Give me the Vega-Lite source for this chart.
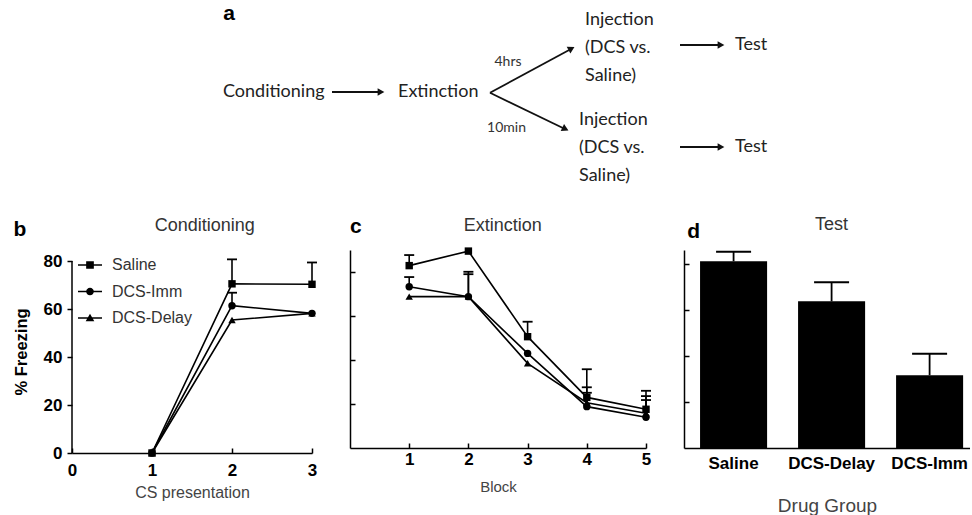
{
  "$schema": "https://vega.github.io/schema/vega-lite/v6.json",
  "padding": {"left": 13, "top": 0, "right": 0, "bottom": 0},
  "bounds": "flush",
  "spacing": 50,
  "config": {
    "font": "Liberation Sans",
    "view": {"stroke": null},
    "axis": {
      "domainColor": "black", "domainWidth": 1.5, "tickColor": "black", "tickWidth": 1.5,
      "labelColor": "black", "labelFont": "Liberation Sans", "labelFontWeight": "bold", "labelFontSize": 17,
      "grid": false, "titleFontWeight": "normal", "titleColor": "#444", "titleFont": "Liberation Sans"
    }
  },
  "datasets": {
    "diagramNodes": [
      {"label": "Conditioning", "x": 151, "y": 92},
      {"label": "Extinction", "x": 326, "y": 92},
      {"label": "Injection", "x": 513, "y": 20},
      {"label": "(DCS vs.", "x": 513, "y": 48},
      {"label": "Saline)", "x": 513, "y": 76},
      {"label": "Injection", "x": 507, "y": 120},
      {"label": "(DCS vs.", "x": 507, "y": 148},
      {"label": "Saline)", "x": 507, "y": 176},
      {"label": "Test", "x": 663, "y": 45},
      {"label": "Test", "x": 663, "y": 147}
    ],
    "diagramTimes": [
      {"label": "4hrs", "x": 436, "y": 62},
      {"label": "10min", "x": 434.5, "y": 128}
    ],
    "diagramArrows": [
      {"x": 260, "y": 92, "x2": 306, "y2": 92},
      {"x": 418, "y": 92.7, "x2": 499, "y2": 49},
      {"x": 418, "y": 92.7, "x2": 493, "y2": 129},
      {"x": 608, "y": 45, "x2": 647, "y2": 45},
      {"x": 608, "y": 147, "x2": 647, "y2": 147}
    ],
    "diagramHeads": [
      {"x": 309, "y": 92, "angle": 0},
      {"x": 499.5, "y": 48.6, "angle": -28.4},
      {"x": 493.4, "y": 129, "angle": 25.7},
      {"x": 649, "y": 45, "angle": 0},
      {"x": 649, "y": 147, "angle": 0}
    ],
    "cond": [
      {"group": "Saline", "x": 1, "y": 0},
      {"group": "Saline", "x": 2, "y": 70.5},
      {"group": "Saline", "x": 3, "y": 70.3},
      {"group": "DCS-Imm", "x": 1, "y": 0},
      {"group": "DCS-Imm", "x": 2, "y": 61.4},
      {"group": "DCS-Imm", "x": 3, "y": 58.2},
      {"group": "DCS-Delay", "x": 1, "y": 0},
      {"group": "DCS-Delay", "x": 2, "y": 55.4},
      {"group": "DCS-Delay", "x": 3, "y": 58.2}
    ],
    "condErr": [
      {"group": "Saline", "x": 2, "y": 70.5, "upper": 80.7},
      {"group": "DCS-Imm", "x": 2, "y": 61.4, "upper": 66.8},
      {"group": "Saline", "x": 3, "y": 70.3, "upper": 79.4}
    ],
    "ext": [
      {"group": "Saline", "x": 1, "y": 82.9},
      {"group": "Saline", "x": 2, "y": 89.5},
      {"group": "Saline", "x": 3, "y": 50.6},
      {"group": "Saline", "x": 4, "y": 23},
      {"group": "Saline", "x": 5, "y": 17.6},
      {"group": "DCS-Imm", "x": 1, "y": 73.3},
      {"group": "DCS-Imm", "x": 2, "y": 68.8},
      {"group": "DCS-Imm", "x": 3, "y": 43},
      {"group": "DCS-Imm", "x": 4, "y": 18.8},
      {"group": "DCS-Imm", "x": 5, "y": 14},
      {"group": "DCS-Delay", "x": 1, "y": 68.8},
      {"group": "DCS-Delay", "x": 2, "y": 68.8},
      {"group": "DCS-Delay", "x": 3, "y": 38.5},
      {"group": "DCS-Delay", "x": 4, "y": 20.6},
      {"group": "DCS-Delay", "x": 5, "y": 15.8}
    ],
    "extErr": [
      {"group": "Saline", "x": 1, "y": 82.9, "upper": 87.7},
      {"group": "DCS-Imm", "x": 1, "y": 73.3, "upper": 77.7},
      {"group": "DCS-Imm", "x": 2, "y": 68.8, "upper": 80.1},
      {"group": "DCS-Delay", "x": 2, "y": 68.8, "upper": 79},
      {"group": "Saline", "x": 3, "y": 50.6, "upper": 57.4},
      {"group": "Saline", "x": 4, "y": 23, "upper": 35.8},
      {"group": "DCS-Delay", "x": 4, "y": 20.6, "upper": 27.6},
      {"group": "DCS-Imm", "x": 4, "y": 18.8, "upper": 25.1},
      {"group": "Saline", "x": 5, "y": 17.6, "upper": 26},
      {"group": "DCS-Delay", "x": 5, "y": 15.8, "upper": 23.6},
      {"group": "DCS-Imm", "x": 5, "y": 14, "upper": 21.8}
    ],
    "test": [
      {"group": "Saline", "y": 81.1, "upper": 85.2},
      {"group": "DCS-Delay", "y": 63.7, "upper": 72},
      {"group": "DCS-Imm", "y": 31.6, "upper": 40.9}
    ]
  },
  "vconcat": [
    {
      "width": 880,
      "height": 200,
      "layer": [
        {
          "data": {"name": "diagramArrows"},
          "mark": {"type": "rule", "color": "#111", "strokeWidth": 1.8},
          "encoding": {
            "x": {"field": "x", "type": "quantitative", "scale": {"domain": [0, 880], "nice": false}, "axis": null},
            "y": {"field": "y", "type": "quantitative", "scale": {"domain": [0, 200], "nice": false, "reverse": true}, "axis": null},
            "x2": {"field": "x2"},
            "y2": {"field": "y2"}
          }
        },
        {
          "data": {"name": "diagramHeads"},
          "mark": {"type": "point", "shape": "triangle-right", "filled": true, "color": "#111", "size": 60, "opacity": 1},
          "encoding": {
            "x": {"field": "x", "type": "quantitative", "axis": null},
            "y": {"field": "y", "type": "quantitative", "axis": null},
            "angle": {"field": "angle", "type": "quantitative", "scale": null}
          }
        },
        {
          "data": {"name": "diagramNodes"},
          "mark": {"type": "text", "font": "Lato", "fontSize": 18, "align": "left", "baseline": "middle", "color": "#222"},
          "encoding": {
            "x": {"field": "x", "type": "quantitative", "axis": null},
            "y": {"field": "y", "type": "quantitative", "axis": null},
            "text": {"field": "label"}
          }
        },
        {
          "data": {"name": "diagramTimes"},
          "mark": {"type": "text", "font": "Lato", "fontSize": 14, "align": "center", "baseline": "middle", "color": "#333"},
          "encoding": {
            "x": {"field": "x", "type": "quantitative", "axis": null},
            "y": {"field": "y", "type": "quantitative", "axis": null},
            "text": {"field": "label"}
          }
        },
        {
          "data": {"values": [{}]},
          "mark": {"type": "text", "fontSize": 21, "fontWeight": "bold", "align": "center", "baseline": "middle", "color": "black"},
          "encoding": {
            "x": {"datum": 157, "type": "quantitative", "axis": null},
            "y": {"datum": 14, "type": "quantitative", "axis": null},
            "text": {"value": "a"}
          }
        }
      ]
    },
    {
      "bounds": "flush",
      "spacing": 38,
      "resolve": {"scale": {"shape": "independent"}, "legend": {"shape": "independent"}},
      "hconcat": [
        {
          "width": 240,
          "height": 203,
          "resolve": {"scale": {"shape": "independent"}, "legend": {"shape": "independent"}},
          "layer": [
            {
              "data": {"name": "cond"},
              "mark": {"type": "line", "color": "black", "strokeWidth": 1.6},
              "encoding": {
                "x": {"field": "x", "type": "quantitative", "scale": {"domain": [0, 3], "nice": false},
                  "axis": {"values": [0, 1, 2, 3], "format": "d", "tickSize": -5, "labelPadding": 14, "labelFlush": false, "labelAngle": 0,
                    "title": "CS presentation", "titleFontSize": 16, "titlePadding": 6}},
                "y": {"field": "y", "type": "quantitative", "scale": {"domain": [0, 84.6], "nice": false},
                  "axis": {"values": [0, 20, 40, 60, 80], "domain": false, "tickSize": 5, "labelPadding": 5,
                    "title": "% Freezing", "titleFontWeight": "bold", "titleColor": "black", "titleFontSize": 16.5, "titlePadding": 14}},
                "detail": {"field": "group"}
              }
            },
            {
              "data": {"values": [{}]},
              "mark": {"type": "rule", "color": "black", "strokeWidth": 1.5},
              "encoding": {
                "x": {"datum": 0, "type": "quantitative"},
                "y": {"datum": 0, "type": "quantitative"},
                "y2": {"datum": 80}
              }
            },
            {
              "data": {"name": "condErr"},
              "mark": {"type": "rule", "color": "black", "strokeWidth": 1.6},
              "encoding": {
                "x": {"field": "x", "type": "quantitative"},
                "y": {"field": "y", "type": "quantitative"},
                "y2": {"field": "upper"}
              }
            },
            {
              "data": {"name": "condErr"},
              "mark": {"type": "tick", "orient": "horizontal", "size": 10, "thickness": 1.8, "color": "black", "opacity": 1},
              "encoding": {
                "x": {"field": "x", "type": "quantitative"},
                "y": {"field": "upper", "type": "quantitative"}
              }
            },
            {
              "data": {"name": "cond"},
              "mark": {"type": "point", "filled": true, "color": "black", "size": 55, "opacity": 1},
              "encoding": {
                "x": {"field": "x", "type": "quantitative"},
                "y": {"field": "y", "type": "quantitative"},
                "shape": {"field": "group", "type": "nominal",
                  "scale": {"domain": ["Saline", "DCS-Imm", "DCS-Delay"], "range": ["square", "circle", "triangle-up"]},
                  "legend": null}
              }
            },
            {
              "data": {"values": []},
              "mark": {"type": "point", "filled": true, "color": "black", "opacity": 1},
              "encoding": {
                "x": {"field": "x", "type": "quantitative"},
                "y": {"field": "y", "type": "quantitative"},
                "shape": {"field": "group", "type": "nominal",
                  "scale": {"domain": ["Saline", "DCS-Imm", "DCS-Delay"],
                    "range": [
                      "M-1,-0.065H1V0.065H-1ZM-0.32,-0.32H0.32V0.32H-0.32Z",
                      "M-1,-0.065H1V0.065H-1ZM0.32,0A0.32,0.32,0,1,1,-0.32,0A0.32,0.32,0,1,1,0.32,0Z",
                      "M-1,-0.065H1V0.065H-1ZM0,-0.36L0.36,0.27L-0.36,0.27Z"
                    ]},
                  "legend": {"title": null, "orient": "none", "legendX": 5, "legendY": 2, "padding": 0,
                    "symbolSize": 576, "symbolFillColor": "black",
                    "labelFontSize": 16, "labelColor": "#333", "labelFont": "Liberation Sans",
                    "labelOffset": 9, "rowPadding": 5.5}
                }
              }
            },
            {
              "data": {"values": [{}]},
              "mark": {"type": "text", "fontSize": 18, "align": "center", "baseline": "middle", "color": "#333"},
              "encoding": {
                "x": {"datum": 1.66, "type": "quantitative"},
                "y": {"datum": 94.6, "type": "quantitative"},
                "text": {"value": "Conditioning"}
              }
            },
            {
              "data": {"values": [{}]},
              "mark": {"type": "text", "fontSize": 21, "fontWeight": "bold", "align": "center", "baseline": "middle", "color": "black"},
              "encoding": {
                "x": {"datum": -0.65, "type": "quantitative"},
                "y": {"datum": 92.9, "type": "quantitative"},
                "text": {"value": "b"}
              }
            }
          ]
        },
        {
          "width": 296,
          "height": 198,
          "layer": [
            {
              "data": {"name": "ext"},
              "mark": {"type": "line", "color": "black", "strokeWidth": 1.6},
              "encoding": {
                "x": {"field": "x", "type": "quantitative", "scale": {"domain": [0, 5], "nice": false},
                  "axis": {"values": [1, 2, 3, 4, 5], "format": "d", "tickSize": -5, "labelPadding": 8, "labelFlush": false, "labelAngle": 0,
                    "title": "Block", "titleFontSize": 15, "titlePadding": 12}},
                "y": {"field": "y", "type": "quantitative", "scale": {"domain": [0, 90], "nice": false},
                  "axis": {"values": [20, 40, 60, 80], "tickSize": -5, "labels": false, "title": null}},
                "detail": {"field": "group"}
              }
            },
            {
              "data": {"name": "extErr"},
              "mark": {"type": "rule", "color": "black", "strokeWidth": 1.6},
              "encoding": {
                "x": {"field": "x", "type": "quantitative"},
                "y": {"field": "y", "type": "quantitative"},
                "y2": {"field": "upper"}
              }
            },
            {
              "data": {"name": "extErr"},
              "mark": {"type": "tick", "orient": "horizontal", "size": 10, "thickness": 1.8, "color": "black", "opacity": 1},
              "encoding": {
                "x": {"field": "x", "type": "quantitative"},
                "y": {"field": "upper", "type": "quantitative"}
              }
            },
            {
              "data": {"name": "ext"},
              "mark": {"type": "point", "filled": true, "color": "black", "size": 55, "opacity": 1},
              "encoding": {
                "x": {"field": "x", "type": "quantitative"},
                "y": {"field": "y", "type": "quantitative"},
                "shape": {"field": "group", "type": "nominal",
                  "scale": {"domain": ["Saline", "DCS-Imm", "DCS-Delay"], "range": ["square", "circle", "triangle-up"]},
                  "legend": null}
              }
            },
            {
              "data": {"values": [{}]},
              "mark": {"type": "text", "fontSize": 18, "align": "center", "baseline": "middle", "color": "#333"},
              "encoding": {
                "x": {"datum": 2.58, "type": "quantitative"},
                "y": {"datum": 100.9, "type": "quantitative"},
                "text": {"value": "Extinction"}
              }
            },
            {
              "data": {"values": [{}]},
              "mark": {"type": "text", "fontSize": 21, "fontWeight": "bold", "align": "center", "baseline": "middle", "color": "black"},
              "encoding": {
                "x": {"datum": 0.1, "type": "quantitative"},
                "y": {"datum": 100.6, "type": "quantitative"},
                "text": {"value": "c"}
              }
            }
          ]
        },
        {
          "width": 286,
          "height": 198,
          "layer": [
            {
              "data": {"name": "test"},
              "mark": {"type": "bar", "color": "black"},
              "encoding": {
                "x": {"field": "group", "type": "nominal", "sort": ["Saline", "DCS-Delay", "DCS-Imm"],
                  "scale": {"paddingInner": 0.316, "paddingOuter": 0.117, "align": 0.7},
                  "axis": {"title": "Drug Group", "ticks": false, "labelAngle": 0, "labelPadding": 7, "labelFontSize": 17,
                    "titleFontSize": 19, "titlePadding": 25}},
                "y": {"field": "y", "type": "quantitative", "scale": {"domain": [0, 86], "nice": false},
                  "axis": {"values": [20, 40, 60, 80], "tickSize": -5, "labels": false, "title": null}}
              }
            },
            {
              "data": {"name": "test"},
              "mark": {"type": "rule", "color": "black", "strokeWidth": 1.8},
              "encoding": {
                "x": {"field": "group", "type": "nominal", "sort": ["Saline", "DCS-Delay", "DCS-Imm"]},
                "y": {"field": "y", "type": "quantitative"},
                "y2": {"field": "upper"}
              }
            },
            {
              "data": {"name": "test"},
              "mark": {"type": "tick", "orient": "horizontal", "size": 35, "thickness": 2, "color": "black", "opacity": 1},
              "encoding": {
                "x": {"field": "group", "type": "nominal", "sort": ["Saline", "DCS-Delay", "DCS-Imm"]},
                "y": {"field": "upper", "type": "quantitative"}
              }
            },
            {
              "data": {"values": [{}]},
              "mark": {"type": "text", "fontSize": 18, "align": "center", "baseline": "middle", "color": "#333"},
              "encoding": {
                "x": {"datum": "DCS-Delay", "type": "nominal"},
                "y": {"datum": 96.9, "type": "quantitative"},
                "text": {"value": "Test"}
              }
            },
            {
              "data": {"values": [{}]},
              "mark": {"type": "text", "fontSize": 21, "fontWeight": "bold", "align": "right", "baseline": "middle", "color": "black"},
              "encoding": {
                "x": {"datum": "Saline", "type": "nominal", "bandPosition": 0},
                "y": {"datum": 94, "type": "quantitative"},
                "text": {"value": "d"}
              }
            }
          ]
        }
      ]
    }
  ]
}
